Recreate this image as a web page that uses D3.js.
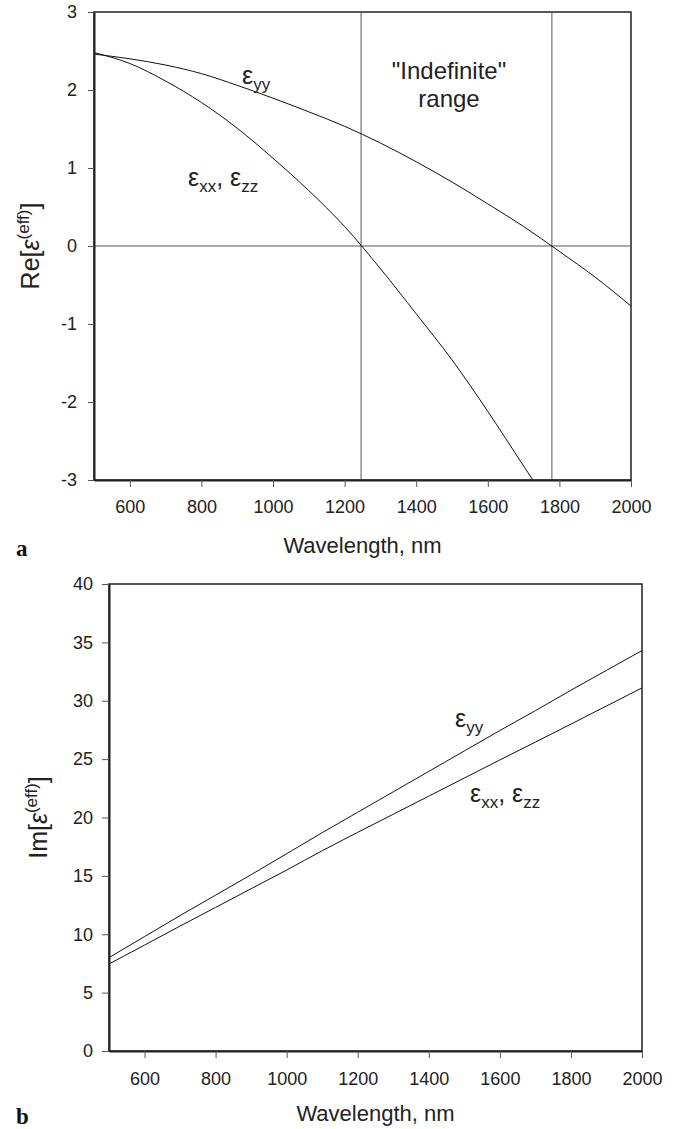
<!DOCTYPE html>
<html>
<head>
<meta charset="utf-8">
<script src="https://cdn.jsdelivr.net/npm/d3@7"></script>
<style>
	body { margin: 0; background: #fff; }
	svg { display: block; font-family: "Liberation Sans", Arial, sans-serif; }
	.axis text { font-size: 18px; fill: #222; }
	.axis line { stroke: #555; }
	.axis path { stroke: #222; stroke-width: 2px; }
</style>
</head>
<body>
<div id="chart"></div>
<script>
// wavelength grid, nm
var wavelength = [500, 600, 700, 800, 900, 1000, 1100, 1200, 1300, 1400, 1500, 1600, 1700, 1800, 1900, 2000];

// panel a: real part
var reYY = [2.46, 2.40, 2.32, 2.21, 2.06, 1.895, 1.72, 1.535, 1.32, 1.08, 0.82, 0.54, 0.25, -0.07, -0.40, -0.77];
var reXXwl = [500, 600, 700, 800, 900, 1000, 1100, 1200, 1300, 1400, 1500, 1600, 1700, 1726];
var reXX = [2.48, 2.34, 2.115, 1.84, 1.51, 1.125, 0.71, 0.25, -0.29, -0.87, -1.46, -2.12, -2.82, -3.0];
var indefinite = [1246, 1779];

// panel b: imaginary part
var imYY = [8.0, 9.8, 11.6, 13.35, 15.1, 16.9, 18.7, 20.45, 22.2, 23.95, 25.7, 27.45, 29.15, 30.9, 32.6, 34.3];
var imXX = [7.45, 9.07, 10.7, 12.3, 13.9, 15.5, 17.15, 18.73, 20.28, 21.83, 23.38, 24.93, 26.46, 28.0, 29.55, 31.1];

var xTicks = [600, 800, 1000, 1200, 1400, 1600, 1800, 2000];
var reTicks = [-3, -2, -1, 0, 1, 2, 3];
var imTicks = [0, 5, 10, 15, 20, 25, 30, 35, 40];

var svg = d3.select("#chart").append("svg")
		.attr("width", 677)
		.attr("height", 1129);

function zip(xs, ys) {
	return xs.map((x, i) => [x, ys[i]]);
}

function panel(opts) {
	var m = opts.box,
		w = m.right - m.left,
		h = m.bottom - m.top;

	var x = d3.scaleLinear().domain([500, 2000]).range([0, w]),
		y = d3.scaleLinear().domain(opts.ylim).range([h, 0]);

	var g = svg.append("g")
			.attr("transform", `translate(${m.left}, ${m.top})`);

	g.append("defs").append("clipPath")
			.attr("id", opts.id + "-clip")
		.append("rect")
			.attr("width", w)
			.attr("height", h);

	g.append("rect")
			.attr("width", w)
			.attr("height", h)
			.attr("fill", "none")
			.attr("stroke", "#222")
			.attr("stroke-width", 1.5);

	(opts.vlines || []).forEach(v => {
		g.append("line")
				.attr("x1", x(v)).attr("x2", x(v))
				.attr("y1", 0).attr("y2", h)
				.attr("stroke", "#555");
	});
	if (opts.zero) {
		g.append("line")
				.attr("x1", 0).attr("x2", w)
				.attr("y1", y(0)).attr("y2", y(0))
				.attr("stroke", "#555");
	}

	var line = d3.line()
			.x(d => x(d[0]))
			.y(d => y(d[1]))
			.curve(d3.curveMonotoneX);

	opts.series.forEach(s => {
		g.append("path")
				.datum(s)
				.attr("clip-path", `url(#${opts.id}-clip)`)
				.attr("fill", "none")
				.attr("stroke", "#111")
				.attr("stroke-width", 1)
				.attr("d", line);
	});

	g.append("g")
			.attr("class", "axis")
			.attr("transform", `translate(0, ${h})`)
			.call(d3.axisBottom(x)
				.tickValues(xTicks)
				.tickFormat(d => String(d))
				.tickSize(7)
				.tickPadding(opts.xpad)
				.tickSizeOuter(0));

	g.append("g")
			.attr("class", "axis")
			.call(d3.axisLeft(y)
				.tickValues(opts.yticks)
				.tickFormat(d => String(d))
				.tickSize(opts.ytick)
				.tickPadding(opts.ypad)
				.tickSizeOuter(0));

	// axis titles
	g.append("text")
			.attr("x", w / 2)
			.attr("y", opts.titleY - m.top)
			.attr("text-anchor", "middle")
			.attr("font-size", 22)
			.attr("fill", "#222")
			.text("Wavelength, nm");

	var yt = g.append("text")
			.attr("transform", `translate(${opts.ytitleX - m.left}, ${h / 2}) rotate(-90)`)
			.attr("text-anchor", "middle")
			.attr("font-size", 25)
			.attr("fill", "#222");
	yt.append("tspan").text(opts.ytitle + "[");
	yt.append("tspan").attr("font-style", "italic").text("ε");
	yt.append("tspan").attr("font-size", 17).attr("dy", -10).text("(eff)");
	yt.append("tspan").attr("dy", 10).text("]");

	svg.append("text")
			.attr("x", 16)
			.attr("y", opts.titleY + 3)
			.attr("font-family", "Liberation Serif, Times New Roman, serif")
			.attr("font-weight", "bold")
			.attr("font-size", 23)
			.attr("fill", "#111")
			.text(opts.tag);

	return {g: g, x: x, y: y};
}

function epsLabel(x, y, subs) {
	var t = svg.append("text")
			.attr("x", x)
			.attr("y", y)
			.attr("font-size", 25)
			.attr("fill", "#222");
	subs.forEach((s, i) => {
		if (i > 0) t.append("tspan").attr("dy", -6).text(", ");
		t.append("tspan").text("ε");
		t.append("tspan").attr("font-size", 17).attr("dy", 6).text(s);
	});
}

var a = panel({
	id: "a",
	box: {left: 94, right: 631, top: 12, bottom: 480},
	ylim: [-3, 3],
	yticks: reTicks,
	ytick: 6, ypad: 11, xpad: 13,
	titleY: 553, ytitleX: 39,
	ytitle: "Re", tag: "a",
	zero: true,
	vlines: indefinite,
	series: [zip(wavelength, reYY), zip(reXXwl, reXX)]
});

var b = panel({
	id: "b",
	box: {left: 109, right: 642, top: 584, bottom: 1051},
	ylim: [0, 40],
	yticks: imTicks,
	ytick: 7, ypad: 9, xpad: 14,
	titleY: 1121, ytitleX: 47,
	ytitle: "Im", tag: "b",
	series: [zip(wavelength, imYY), zip(wavelength, imXX)]
});

epsLabel(242, 84, ["yy"]);
epsLabel(188, 186, ["xx", "zz"]);
epsLabel(455, 727, ["yy"]);
epsLabel(470, 802, ["xx", "zz"]);

svg.append("text")
		.attr("x", 449)
		.attr("y", 79)
		.attr("text-anchor", "middle")
		.attr("font-size", 24)
		.attr("fill", "#222")
		.text("\"Indefinite\"");
svg.append("text")
		.attr("x", 449)
		.attr("y", 107)
		.attr("text-anchor", "middle")
		.attr("font-size", 24)
		.attr("fill", "#222")
		.text("range");
</script>
</body>
</html>
